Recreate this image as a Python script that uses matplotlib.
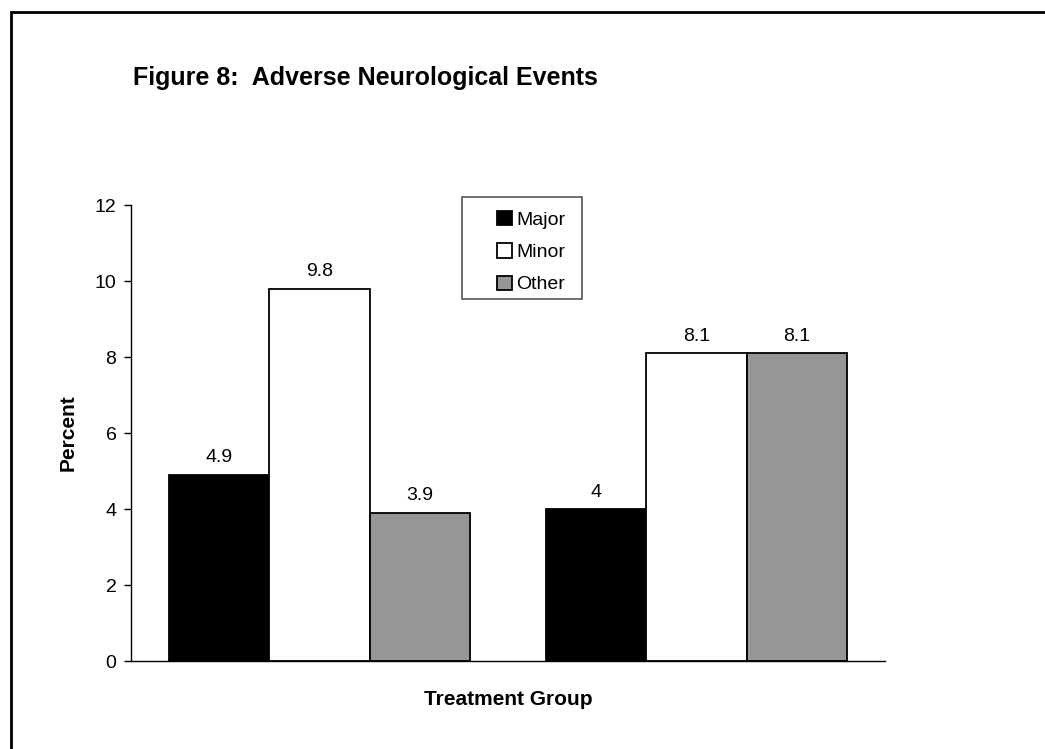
import numpy as np
import matplotlib.pyplot as plt
from matplotlib import patches

plt.rcParams["font.family"] = ["Liberation Sans", "DejaVu Sans"]

groups = ["Group 1", "Group 2"]
series = ["Major", "Minor", "Other"]
major = [4.9, 4.0]
minor = [9.8, 8.1]
other = [3.9, 8.1]
value_labels = [["4.9", "4"], ["9.8", "8.1"], ["3.9", "8.1"]]
colors = ["#000000", "#ffffff", "#969696"]

W, H = 1045, 749
fig = plt.figure(figsize=(W / 100, H / 100), dpi=100)
ax = fig.add_axes([131 / W, 1 - 661 / H, 754 / W, 456 / H])

x = np.arange(len(groups))
width = 0.8 / 3
for i, (vals, col) in enumerate(zip([major, minor, other], colors)):
    bars = ax.bar(x + (i - 1) * width, vals, width, color=col,
                  edgecolor="black", linewidth=1.3, label=series[i])
    for b, lab in zip(bars, value_labels[i]):
        ax.annotate(lab, (b.get_x() + b.get_width() / 2, b.get_height()),
                    xytext=(0, 6), textcoords="offset points",
                    ha="center", va="bottom", fontsize=14)

ax.set_xlim(-0.5, 1.5)
ax.set_ylim(0, 12)
ax.set_yticks(range(0, 13, 2))
ax.set_xticks([])
ax.tick_params(axis="y", labelsize=14, length=5, width=1, pad=5.5)
ax.spines["top"].set_visible(False)
ax.spines["right"].set_visible(False)
ax.spines["left"].set_linewidth(1)
ax.spines["bottom"].set_linewidth(1)

ax.set_ylabel("Percent", fontsize=15, fontweight="bold", labelpad=12.5)
ax.set_xlabel("Treatment Group", fontsize=15, fontweight="bold", labelpad=21)

###############################################################################
# Legend: entries without frame, frame drawn as a separate box (Excel style)

leg = ax.legend(loc="upper left", bbox_to_anchor=(497 / W, 1 - 211 / H),
                bbox_transform=fig.transFigure, fontsize=14,
                handlelength=0.75, handleheight=0.75, handletextpad=0.25,
                borderpad=0, borderaxespad=0, labelspacing=0.74,
                frameon=False)
fig.add_artist(patches.Rectangle((462 / W, 1 - 299 / H), 120 / W, 102 / H,
                                 transform=fig.transFigure, fill=False,
                                 edgecolor="#555555", linewidth=1.2))

fig.text(133 / W, 1 - 85 / H, "Figure 8:  Adverse Neurological Events",
         fontsize=18, fontweight="bold", va="baseline", ha="left")

# border around the figure
fig.add_artist(patches.Rectangle((11 / W, -0.1), 1.1, 1 - 12 / H + 0.1,
                                 transform=fig.transFigure, fill=False,
                                 edgecolor="black", linewidth=2))

fig.savefig("out.png", dpi=100)
